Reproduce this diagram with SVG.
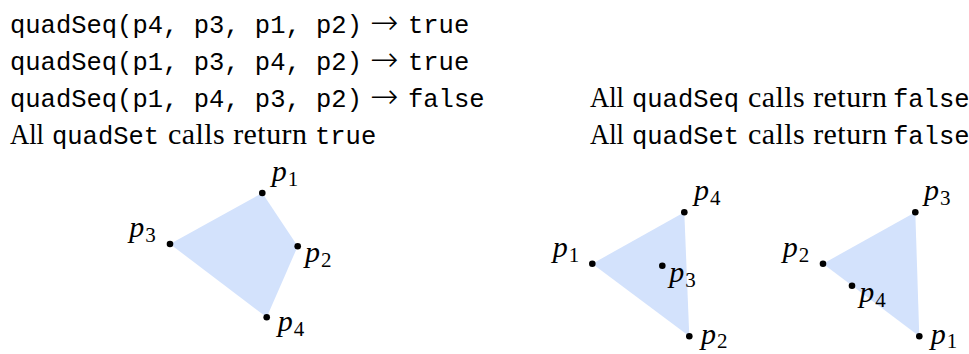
<svg xmlns="http://www.w3.org/2000/svg" width="969" height="354" viewBox="0 0 969 354">
<style>
.mono{font-family:"Liberation Mono","DejaVu Sans Mono",monospace;font-size:25.5px;fill:#000}
.rm{font-family:"Liberation Serif","DejaVu Serif",serif;font-size:30px;fill:#000}
.arr{font-family:"DejaVu Sans","Liberation Serif",sans-serif;font-weight:200;font-size:34px;fill:#000}
.lbl{font-family:"Liberation Serif","DejaVu Serif",serif;font-size:30px;font-style:italic;fill:#000}
.sub{font-style:normal;font-size:21px}
.shape{fill:#d3e2fc;stroke:none}
.dot{fill:#000}
</style>
<rect width="969" height="354" fill="#fff"/>
<g id="text-left">
<text class="mono" x="10" y="33">quadSeq(p4, p3, p1, p2)</text>
<text class="arr" x="370" y="34">→</text>
<text class="mono" x="408" y="33">true</text>
<text class="mono" x="10" y="70">quadSeq(p1, p3, p4, p2)</text>
<text class="arr" x="370" y="71">→</text>
<text class="mono" x="408" y="70">true</text>
<text class="mono" x="10" y="107">quadSeq(p1, p4, p3, p2)</text>
<text class="arr" x="370" y="108">→</text>
<text class="mono" x="408" y="107">false</text>
<text y="144"><tspan class="rm" x="10" textLength="34" lengthAdjust="spacingAndGlyphs">All</tspan><tspan class="mono" x="52">quadSet</tspan><tspan class="rm" x="168" textLength="139">calls return</tspan><tspan class="mono" x="315">true</tspan></text>
</g>
<g id="text-right">
<text y="107"><tspan class="rm" x="590" textLength="34" lengthAdjust="spacingAndGlyphs">All</tspan><tspan class="mono" x="632">quadSeq</tspan><tspan class="rm" x="748" textLength="139">calls return</tspan><tspan class="mono" x="893">false</tspan></text>
<text y="144"><tspan class="rm" x="590" textLength="34" lengthAdjust="spacingAndGlyphs">All</tspan><tspan class="mono" x="632">quadSet</tspan><tspan class="rm" x="748" textLength="139">calls return</tspan><tspan class="mono" x="893">false</tspan></text>
</g>
<g id="quad-left">
<polygon class="shape" points="262.3,193 297.7,246.3 266.7,317.3 170,244"/>
<g id="L-p1"><circle class="dot" cx="262.3" cy="193" r="3.3"/><text class="lbl" x="271.7" y="181">p<tspan class="sub" dx="1" dy="5">1</tspan></text></g>
<g id="L-p2"><circle class="dot" cx="297.7" cy="246.3" r="3.3"/><text class="lbl" x="305" y="262">p<tspan class="sub" dx="1" dy="5">2</tspan></text></g>
<g id="L-p3"><circle class="dot" cx="170" cy="244" r="3.3"/><text class="lbl" x="129.3" y="236.5">p<tspan class="sub" dx="1" dy="5">3</tspan></text></g>
<g id="L-p4"><circle class="dot" cx="266.7" cy="317.3" r="3.3"/><text class="lbl" x="277.7" y="330.5">p<tspan class="sub" dx="1" dy="5">4</tspan></text></g>
</g>
<g id="tri-middle">
<polygon class="shape" points="684.3,212.3 689.3,336.3 592.3,263.7"/>
<g id="M-p1"><circle class="dot" cx="592.3" cy="263.7" r="3.3"/><text class="lbl" x="552.7" y="256.5">p<tspan class="sub" dx="1" dy="5">1</tspan></text></g>
<g id="M-p2"><circle class="dot" cx="689.3" cy="336.3" r="3.3"/><text class="lbl" x="701" y="344">p<tspan class="sub" dx="1" dy="4">2</tspan></text></g>
<g id="M-p3"><circle class="dot" cx="662.3" cy="265.7" r="3.3"/><text class="lbl" x="669.3" y="281.5">p<tspan class="sub" dx="1" dy="5">3</tspan></text></g>
<g id="M-p4"><circle class="dot" cx="684.3" cy="212.3" r="3.3"/><text class="lbl" x="694" y="200">p<tspan class="sub" dx="1" dy="5">4</tspan></text></g>
</g>
<g id="tri-right">
<polygon class="shape" points="915.3,212.3 919.3,336.3 823,263.7"/>
<g id="R-p1"><circle class="dot" cx="919.3" cy="336.3" r="3.3"/><text class="lbl" x="930.7" y="344">p<tspan class="sub" dx="1" dy="4">1</tspan></text></g>
<g id="R-p2"><circle class="dot" cx="823" cy="263.7" r="3.3"/><text class="lbl" x="782.7" y="256.5">p<tspan class="sub" dx="1" dy="5">2</tspan></text></g>
<g id="R-p3"><circle class="dot" cx="915.3" cy="212.3" r="3.3"/><text class="lbl" x="924" y="200">p<tspan class="sub" dx="1" dy="5">3</tspan></text></g>
<g id="R-p4"><circle class="dot" cx="852" cy="285.7" r="3.3"/><text class="lbl" x="859.3" y="301.5">p<tspan class="sub" dx="1" dy="5">4</tspan></text></g>
</g>
</svg>
